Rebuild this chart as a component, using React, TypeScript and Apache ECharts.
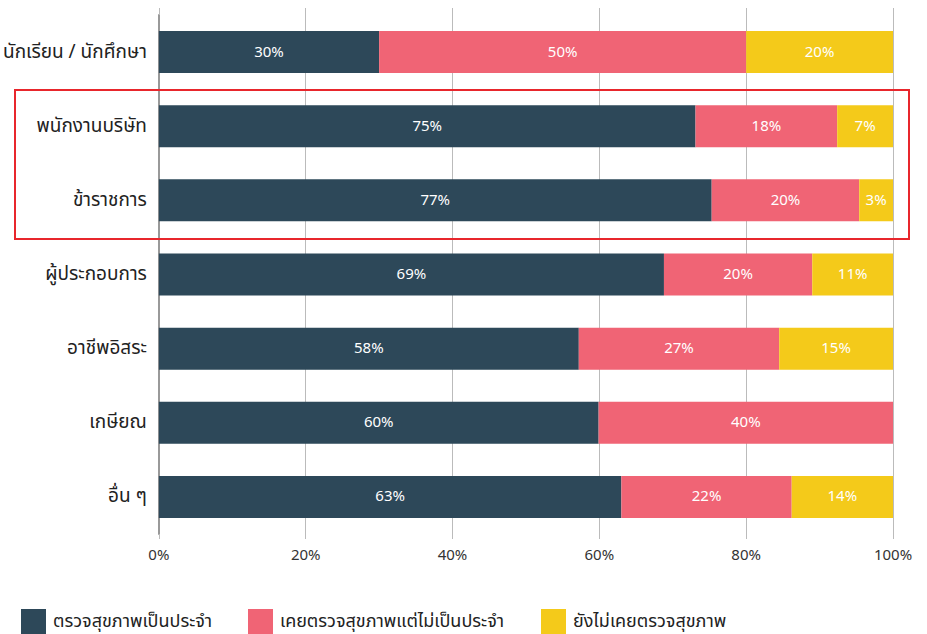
import React, { useEffect, useRef } from "react";
import * as echarts from "echarts";

const categories = [
  "นักเรียน / นักศึกษา",
  "พนักงานบริษัท",
  "ข้าราชการ",
  "ผู้ประกอบการ",
  "อาชีพอิสระ",
  "เกษียณ",
  "อื่น ๆ",
];
const seriesNames = ["ตรวจสุขภาพเป็นประจำ", "เคยตรวจสุขภาพแต่ไม่เป็นประจำ", "ยังไม่เคยตรวจสุขภาพ"];
// bar lengths as drawn
const regularValues = [30, 73.1, 75.3, 68.8, 57.2, 59.9, 63.0];
const sometimesValues = [50, 19.3, 20.1, 20.2, 27.3, 40.1, 23.2];
const neverValues = [20, 7.6, 4.6, 11.0, 15.5, 0, 13.8];
// printed labels
const regularLabels = ["30%", "75%", "77%", "69%", "58%", "60%", "63%"];
const sometimesLabels = ["50%", "18%", "20%", "20%", "27%", "40%", "22%"];
const neverLabels = ["20%", "7%", "3%", "11%", "15%", "", "14%"];
const xTicks = [0, 20, 40, 60, 80, 100];

const COLORS = ["#2d4859", "#f06475", "#f4ca1a"];
const FONT = "'Noto Sans Thai', 'Noto Sans', 'DejaVu Sans', sans-serif";
const legendLefts = [16, 243, 536];

export default function App() {
  const ref = useRef<HTMLDivElement>(null);
  useEffect(() => {
    document.body.style.margin = "0";
    const chart = echarts.init(ref.current!, undefined, { renderer: "svg" });
    const mk = (name: string, vals: number[], labels: string[], color: string) => ({
      name,
      type: "bar",
      stack: "total",
      barWidth: 42,
      data: vals.slice().reverse(),
      itemStyle: { color },
      label: {
        show: true,
        position: "inside",
        color: "#fff",
        fontSize: 15,
        fontFamily: FONT,
        formatter: (p: any) => labels[categories.length - 1 - p.dataIndex],
      },
    });
    chart.setOption({
      animation: false,
      textStyle: { fontFamily: FONT },
      grid: { left: 157, right: 34, top: 15, height: 519 },
      legend: seriesNames.map((n, i) => ({
        left: legendLefts[i],
        top: 604,
        itemWidth: 25,
        itemHeight: 25,
        icon: "rect",
        textStyle: { fontSize: 18, color: "#222", fontFamily: FONT, padding: [0, 0, 0, 2] },
        data: [n],
      })),
      xAxis: [
        {
          type: "value",
          min: 0,
          max: 100,
          interval: 20,
          axisLine: { show: false },
          axisTick: { show: true, length: 5, lineStyle: { color: "#bbb" } },
          splitLine: { show: true, lineStyle: { color: "#bbb", width: 1 } },
          axisLabel: {
            fontSize: 15,
            color: "#333",
            margin: 14,
            fontFamily: FONT,
            formatter: (v: number) => (xTicks.includes(v) ? v + "%" : ""),
          },
        },
        {
          type: "value",
          position: "top",
          min: 0,
          max: 100,
          interval: 20,
          axisLine: { show: false },
          axisTick: { show: true, length: 7, lineStyle: { color: "#bbb" } },
          splitLine: { show: false },
          axisLabel: { show: false },
        },
      ],
      yAxis: {
        type: "category",
        data: categories.slice().reverse(),
        axisLine: { show: true, lineStyle: { color: "#999", width: 2 } },
        axisTick: { show: false },
        axisLabel: { fontSize: 19, color: "#222", margin: 12, fontFamily: FONT },
      },
      series: [
        mk(seriesNames[0], regularValues, regularLabels, COLORS[0]),
        mk(seriesNames[1], sometimesValues, sometimesLabels, COLORS[1]),
        mk(seriesNames[2], neverValues, neverLabels, COLORS[2]),
      ],
      graphic: [
        {
          type: "rect",
          shape: { x: 15, y: 90, width: 894, height: 149 },
          style: { fill: "none", stroke: "#e8262c", lineWidth: 2 },
          z: 10,
        },
      ],
    });
    return () => chart.dispose();
  }, []);
  return <div ref={ref} style={{ width: 927, height: 634 }} />;
}
